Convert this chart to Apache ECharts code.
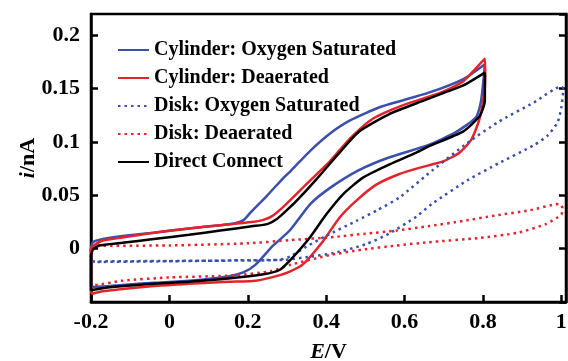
<!DOCTYPE html>
<html>
<head>
<meta charset="utf-8">
<script src="https://cdn.jsdelivr.net/npm/echarts@6/dist/echarts.min.js"></script>
<style>
html, body { margin: 0; padding: 0; background: #fff; }
#main { width: 568px; height: 361px; }
</style>
</head>
<body>
<div id="main"></div>
<script>
// legend names
const names = ['Cylinder: Oxygen Saturated', 'Cylinder: Deaerated', 'Disk: Oxygen Saturated', 'Disk: Deaerated', 'Direct Connect']

// potential (V) / current (nA), each loop traced in sweep order
const cylO2E = [-0.2, -0.195, -0.17, -0.12, -0.04, 0.05, 0.13, 0.17, 0.19, 0.205, 0.25, 0.29, 0.31, 0.36, 0.41, 0.46, 0.54, 0.66, 0.75, 0.805,
  0.802, 0.795, 0.782, 0.73, 0.66, 0.56, 0.48, 0.41, 0.36, 0.307, 0.265, 0.22, 0.19, 0.15, 0.05, -0.04, -0.12, -0.19, -0.2, -0.2]
const cylO2I = [0.0, 0.006, 0.009, 0.012, 0.015, 0.019, 0.022, 0.024, 0.027, 0.033, 0.050, 0.066, 0.073, 0.092, 0.108, 0.120, 0.133, 0.146, 0.159, 0.173,
  0.160, 0.138, 0.123, 0.109, 0.097, 0.0855, 0.073, 0.057, 0.042, 0.017, 0.003, -0.015, -0.022, -0.026, -0.030, -0.032, -0.034, -0.036, -0.035, 0.0]

const cylDeE = [-0.2, -0.175, -0.12, -0.04, 0.05, 0.13, 0.21, 0.24, 0.26, 0.29, 0.34, 0.41, 0.46, 0.52, 0.6, 0.69, 0.75, 0.805,
  0.806, 0.802, 0.79, 0.77, 0.74, 0.70, 0.64, 0.587, 0.528, 0.477, 0.434, 0.392, 0.34, 0.31, 0.28, 0.22, 0.15, 0.05, -0.04, -0.17, -0.197, -0.2, -0.2]
const cylDeI = [0.001, 0.007, 0.0105, 0.015, 0.019, 0.022, 0.025, 0.027, 0.030, 0.039, 0.057, 0.082, 0.103, 0.122, 0.135, 0.146, 0.157, 0.178,
  0.160, 0.142, 0.120, 0.102, 0.090, 0.082, 0.076, 0.070, 0.060, 0.045, 0.029, 0.007, -0.015, -0.021, -0.025, -0.030, -0.031, -0.033, -0.035, -0.040, -0.042, -0.040, 0.001]

const diskO2E = [-0.2, 0.0, 0.2, 0.29, 0.36, 0.42, 0.5, 0.56, 0.63, 0.67, 0.76, 0.84, 0.93, 0.965, 0.99, 1.0, 1.005,
  1.0, 0.93, 0.84, 0.76, 0.673, 0.587, 0.53, 0.477, 0.40, 0.35, 0.31, 0.28, 0.15, 0.0, -0.2]
const diskO2I = [-0.0125, -0.0118, -0.0108, -0.0105, -0.0075, -0.004, 0.004, 0.014, 0.030, 0.042, 0.064, 0.080, 0.097, 0.106, 0.118, 0.132, 0.150,
  0.152, 0.137, 0.119, 0.099, 0.074, 0.048, 0.036, 0.026, 0.012, 0.002, -0.007, -0.0105, -0.0112, -0.0115, -0.012]

const diskDeE = [-0.2, -0.19, 0.0, 0.2, 0.31, 0.42, 0.5, 0.58, 0.66, 0.75, 0.83, 0.92, 0.995, 1.003, 1.0,
  0.96, 0.89, 0.79, 0.66, 0.58, 0.49, 0.41, 0.31, 0.26, 0.17, 0.0, -0.12, -0.19, -0.2, -0.2]
const diskDeI = [0.001, 0.0025, 0.003, 0.005, 0.008, 0.011, 0.014, 0.017, 0.021, 0.026, 0.031, 0.036, 0.042, 0.038, 0.032,
  0.023, 0.015, 0.010, 0.006, 0.003, -0.001, -0.006, -0.015, -0.021, -0.025, -0.027, -0.030, -0.034, -0.032, 0.001]

const directE = [-0.2, -0.195, -0.18, -0.12, -0.04, 0.05, 0.13, 0.21, 0.25, 0.275, 0.3065, 0.325, 0.375, 0.434, 0.485, 0.56, 0.65, 0.7, 0.75, 0.805,
  0.805, 0.792, 0.75, 0.664, 0.63, 0.562, 0.494, 0.443, 0.40, 0.358, 0.3065, 0.281, 0.24, 0.15, 0.05, -0.04, -0.17, -0.2, -0.2]
const directI = [-0.006, -0.001, 0.003, 0.0055, 0.009, 0.013, 0.017, 0.021, 0.023, 0.028, 0.0385, 0.045, 0.065, 0.090, 0.110, 0.126, 0.139, 0.146, 0.153, 0.165,
  0.139, 0.1245, 0.110, 0.0963, 0.090, 0.079, 0.0666, 0.051, 0.032, 0.0103, -0.0115, -0.020, -0.024, -0.028, -0.031, -0.033, -0.037, -0.039, -0.006]

const blue = '#3a4fae'
const red = '#e5232b'
const font = 'Liberation Serif, Times New Roman, serif'

const pts = (e, i) => e.map((x, k) => [x, i[k]])

function line(name, data, color, dotted) {
  return {
    name: name,
    type: 'line',
    data: data,
    symbol: 'none',
    smooth: 0.2,
    lineStyle: dotted
      ? { color: color, width: 2.5, type: [2.5, 4] }
      : { color: color, width: 2.5 },
    itemStyle: { color: color }
  }
}

const labelStyle = {
  fontFamily: font,
  fontWeight: 'bold',
  fontSize: 22,
  color: '#000'
}
const nameStyle = {
  fontFamily: font,
  fontWeight: 'bold',
  fontSize: 22,
  color: '#000',
  rich: {
    i: { fontFamily: font, fontWeight: 'bold', fontStyle: 'italic', fontSize: 22, color: '#000' }
  }
}
const frameLine = { show: true, onZero: false, lineStyle: { color: '#000', width: 2.5 } }
const inTick = { show: true, inside: true, length: 7, lineStyle: { width: 2.5, color: '#000' } }

const charts = echarts.init(document.getElementById('main'))
charts.setOption({
  animation: false,
  grid: {
    left: 91,
    right: 2,
    top: 14,
    bottom: 59,
    outerBoundsMode: 'none',
    containLabel: false,
    show: true,
    borderColor: '#000',
    borderWidth: 2.5
  },
  legend: {
    orient: 'vertical',
    left: 117,
    top: 40,
    padding: 0,
    itemWidth: 31,
    itemHeight: 14,
    itemGap: 8,
    itemStyle: { opacity: 0 },
    textStyle: {
      fontFamily: font,
      fontWeight: 'bold',
      fontSize: 20,
      lineHeight: 20,
      color: '#000'
    },
    data: names
  },
  xAxis: {
    type: 'value',
    min: -0.2,
    max: 1.012,
    interval: 0.2,
    name: '{i|E}/V',
    nameLocation: 'middle',
    nameGap: 39,
    nameMoveOverlap: false,
    nameTextStyle: nameStyle,
    axisLine: frameLine,
    axisTick: inTick,
    axisLabel: Object.assign({ showMaxLabel: false, margin: 9 }, labelStyle),
    splitLine: { show: false }
  },
  yAxis: [
    {
      type: 'value',
      min: -0.05,
      max: 0.22,
      interval: 0.05,
      name: '{i|i}/nA',
      nameLocation: 'middle',
      nameGap: 52,
      nameMoveOverlap: false,
      nameTextStyle: nameStyle,
      axisLine: frameLine,
      axisTick: inTick,
      axisLabel: Object.assign({ showMinLabel: false, showMaxLabel: false, margin: 11 }, labelStyle),
      splitLine: { show: false }
    },
    {
      type: 'value',
      position: 'right',
      min: -0.05,
      max: 0.22,
      interval: 0.05,
      axisLine: frameLine,
      axisTick: inTick,
      axisLabel: { show: false },
      splitLine: { show: false }
    }
  ],
  series: [
    line(names[0], pts(cylO2E, cylO2I), blue, false),
    line(names[1], pts(cylDeE, cylDeI), red, false),
    line(names[2], pts(diskO2E, diskO2I), blue, true),
    line(names[3], pts(diskDeE, diskDeI), red, true),
    line(names[4], pts(directE, directI), '#000', false)
  ]
})
</script>
</body>
</html>
